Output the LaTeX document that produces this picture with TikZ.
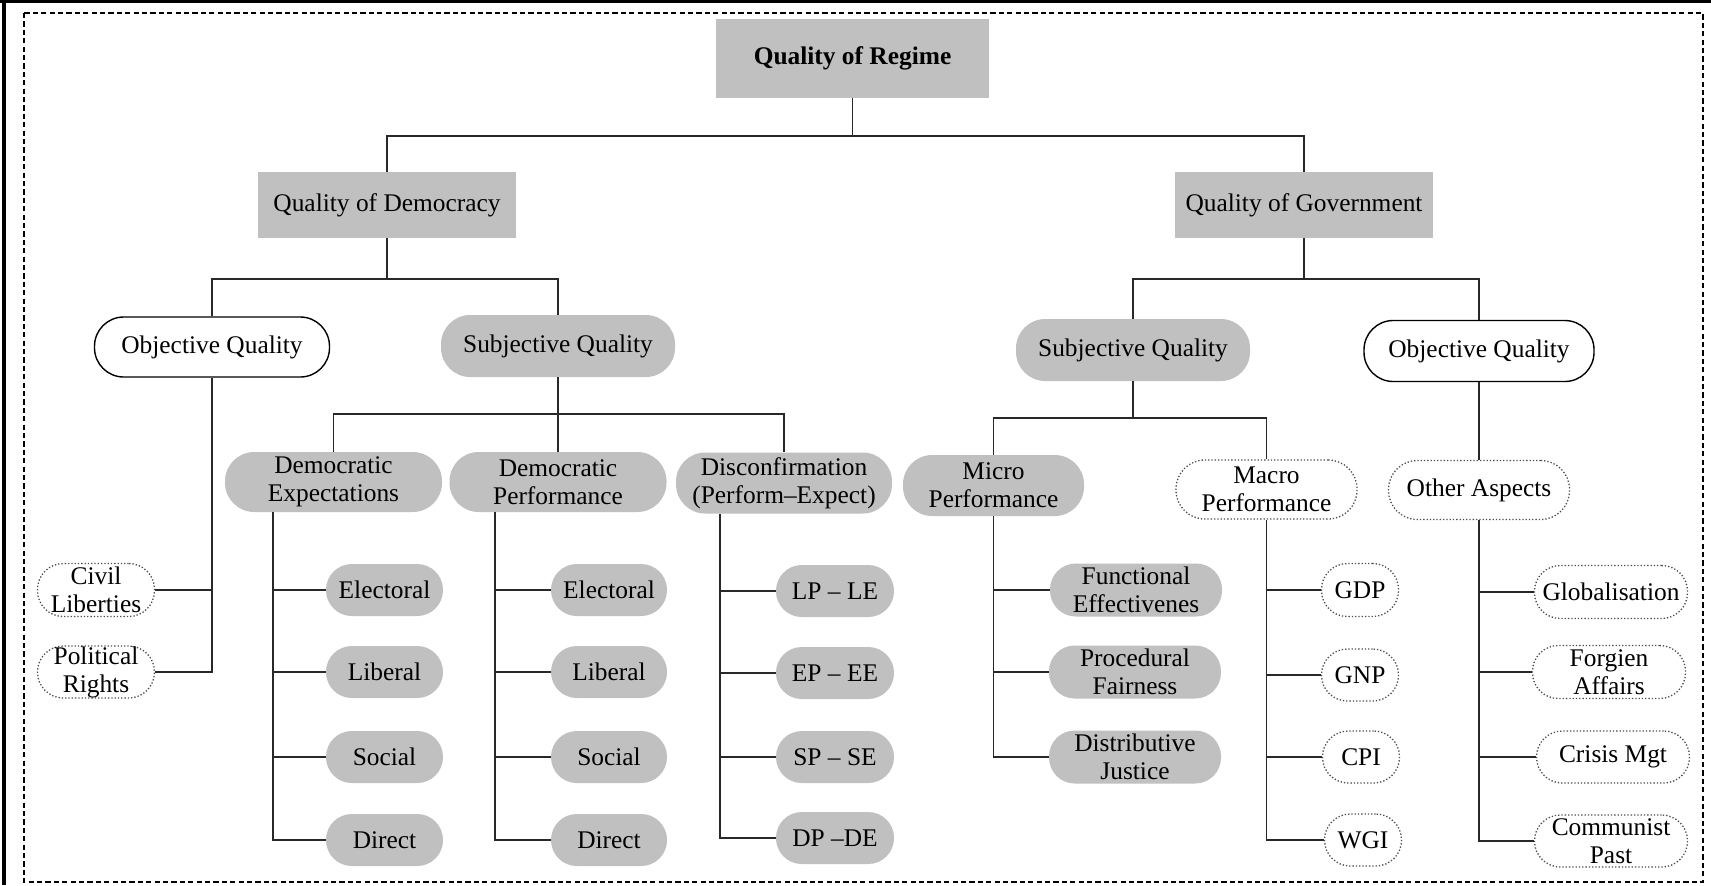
\documentclass[tikz,border=0pt]{standalone}
\usepackage{fontspec}
\setmainfont{Liberation Serif}
\definecolor{boxgray}{RGB}{192,192,192}
\definecolor{linecol}{RGB}{40,40,40}
\tikzset{
  lk/.style={draw=linecol, line width=0.75pt},
  sz/.style 2 args={minimum width=#1*0.5pt, minimum height=#2*0.5pt},
  base/.style={inner sep=0pt, align=center, text=black,
               font=\fontsize{12.7}{14}\selectfont},
  grect/.style={base, fill=boxgray},
  gpill/.style={base, fill=boxgray, rounded corners=12.9pt},
  gpillb/.style={base, fill=boxgray, rounded corners=14.6pt},
  solidpill/.style={base, fill=white, draw=black, line width=0.7pt, rounded corners=14.6pt},
  dotpill/.style={base, fill=white, draw=black!70, densely dotted, line width=0.65pt, rounded corners=12.9pt},
  dotpillb/.style={base, fill=white, draw=black!70, densely dotted, line width=0.65pt, rounded corners=14.4pt},
  frame/.style={draw=black, line width=0.6pt, dash pattern=on 2.6pt off 1.6pt}
}
\begin{document}
\begin{tikzpicture}[x=0.5pt,y=-0.5pt]
\useasboundingbox (0,0) rectangle (1711,885);
\fill[white] (0,0) rectangle (1711,885);
\draw[line width=1.7pt] (0,1.6) -- (1711,1.6);
\draw[line width=1.8pt] (3.8,0) -- (3.8,885);
\draw[frame] (24,13) rectangle (1703,882);

% top level
\node[grect, sz={273}{79}, font=\fontsize{12.7}{14}\selectfont\bfseries] (qr) at (852.5,58.5) {Quality of Regime};
\node[grect, sz={258}{66}] (qd) at (387,205) {Quality of Democracy};
\node[grect, sz={258}{66}] (qg) at (1304,205) {Quality of Government};

% democracy side
\node[solidpill, sz={235}{60}] (oql) at (212,347) {Objective Quality};
\node[gpillb, sz={234}{62}] (sql) at (558,346) {Subjective Quality};
\node[dotpill, sz={117}{53}] (cl) at (96,590) {Civil\\Liberties};
\node[dotpill, sz={117}{52}] (pr) at (96,672) {Political\\Rights};

\node[gpillb, sz={217}{60}] (de) at (333.5,482) {Democratic\\Expectations};
\node[gpillb, sz={217}{60}] (dp) at (558,482) {Democratic\\Performance};
\node[gpillb, sz={216}{61}] (dc) at (784,483) {Disconfirmation\\(Perform–Expect)};

\node[gpill, sz={117}{52}] (e1) at (384.5,590) {Electoral};
\node[gpill, sz={117}{52}] (e2) at (384.5,672) {Liberal};
\node[gpill, sz={117}{52}] (e3) at (384.5,757) {Social};
\node[gpill, sz={117}{52}] (e4) at (384.5,840) {Direct};

\node[gpill, sz={116}{52}] (p1) at (609,590) {Electoral};
\node[gpill, sz={116}{52}] (p2) at (609,672) {Liberal};
\node[gpill, sz={116}{52}] (p3) at (609,757) {Social};
\node[gpill, sz={116}{52}] (p4) at (609,840) {Direct};

\node[gpill, sz={118}{52}] (c1) at (835,591) {LP – LE};
\node[gpill, sz={118}{52}] (c2) at (835,673) {EP – EE};
\node[gpill, sz={118}{52}] (c3) at (835,757) {SP – SE};
\node[gpill, sz={118}{52}] (c4) at (835,838) {DP –DE};

% government side
\node[gpillb, sz={234}{62}] (sqr) at (1133,350) {Subjective Quality};
\node[solidpill, sz={230}{61}] (oqr) at (1479,351) {Objective Quality};
\node[gpillb, sz={181}{61}] (mi) at (993.5,485.5) {Micro\\Performance};
\node[dotpillb, sz={181}{59}] (ma) at (1266.5,489.5) {Macro\\Performance};
\node[dotpillb, sz={181}{59}] (oa) at (1479,490) {Other Aspects};

\node[gpill, sz={172}{53}] (f1) at (1136,590) {Functional\\Effectivenes};
\node[gpill, sz={172}{53}] (f2) at (1135,672) {Procedural\\Fairness};
\node[gpill, sz={172}{53}] (f3) at (1135,757) {Distributive\\Justice};

\node[dotpill, sz={77}{53}] (g1) at (1360,590) {GDP};
\node[dotpill, sz={77}{52}] (g2) at (1360,675) {GNP};
\node[dotpill, sz={77}{52}] (g3) at (1361,757) {CPI};
\node[dotpill, sz={77}{52}] (g4) at (1363,840) {WGI};

\node[dotpill, sz={153}{53}] (o1) at (1611,592) {Globalisation};
\node[dotpill, sz={153}{53}] (o2) at (1609,672) {Forgien\\Affairs};
\node[dotpill, sz={153}{52}] (o3) at (1613,757) {Crisis Mgt};
\node[dotpill, sz={153}{52}] (o4) at (1611,841) {Communist\\Past};

% connectors: top
\coordinate (b0) at (852.5,136);
\draw[lk] (qr.south) -- (b0);
\draw[lk] (qd.north) |- (b0) -| (qg.north);

% democracy
\coordinate (b1) at (387,279);
\draw[lk] (qd.south) -- (b1);
\draw[lk] (oql.north) |- (b1) -| (sql.north);
\coordinate (b2) at (558,414);
\draw[lk] (sql.south) -- (b2) -- (dp.north);
\draw[lk] (de.north) |- (b2) -| (dc.north);

\foreach \n in {cl,pr} \draw[lk] (\n.east) -| (oql.south);
\coordinate (xde) at (273,0);
\coordinate (xdp) at (495,0);
\coordinate (xdc) at (720,0);
\foreach \n in {e1,e2,e3,e4} \draw[lk] (\n.west) -| (de.south -| xde);
\foreach \n in {p1,p2,p3,p4} \draw[lk] (\n.west) -| (dp.south -| xdp);
\foreach \n in {c1,c2,c3,c4} \draw[lk] (\n.west) -| (dc.south -| xdc);

% government
\coordinate (b3) at (1304,279);
\draw[lk] (qg.south) -- (b3);
\draw[lk] (sqr.north) |- (b3) -| (oqr.north);
\coordinate (b4) at (1133,418);
\draw[lk] (sqr.south) -- (b4);
\draw[lk] (mi.north) |- (b4) -| (ma.north);
\draw[lk] (oqr.south) -- (oa.north);
\foreach \n in {f1,f2,f3} \draw[lk] (\n.west) -| (mi.south);
\foreach \n in {g1,g2,g3,g4} \draw[lk] (\n.west) -| (ma.south);
\foreach \n in {o1,o2,o3,o4} \draw[lk] (\n.west) -| (oa.south);
\end{tikzpicture}
\end{document}
